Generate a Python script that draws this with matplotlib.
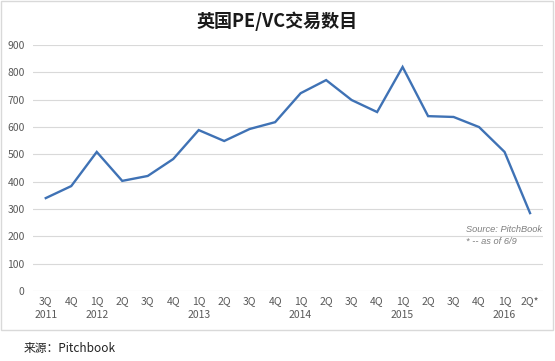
import matplotlib.pyplot as plt
from matplotlib.patches import Rectangle

plt.rcParams['font.family'] = ['Noto Sans CJK SC', 'DejaVu Sans']

# 季度标签与交易数目
quarters = ['3Q\n2011', '4Q', '1Q\n2012', '2Q', '3Q', '4Q', '1Q\n2013', '2Q', '3Q', '4Q',
            '1Q\n2014', '2Q', '3Q', '4Q', '1Q\n2015', '2Q', '3Q', '4Q', '1Q\n2016', '2Q*']
deals = [340, 384, 509, 403, 421, 483, 589, 549, 593, 618,
         724, 772, 699, 655, 820, 640, 637, 600, 509, 285]
yticks = [0, 100, 200, 300, 400, 500, 600, 700, 800, 900]

fig = plt.figure(figsize=(5.55, 3.61), dpi=100)
ax = fig.add_axes([0.0595, 0.194, 0.9185, 0.681])

x = range(len(deals))
ax.plot(x, deals, color='#3F72B5', linewidth=1.7, solid_joinstyle='miter')

ax.set_xlim(-0.5, len(deals) - 0.5)
ax.set_ylim(0, 900)
ax.set_yticks(yticks)
ax.set_xticks(list(x))
ax.set_xticklabels(quarters, fontsize=7.5, color='#595959', linespacing=1.45)
ax.tick_params(axis='y', labelsize=7.5, labelcolor='#595959', length=0, pad=6)
ax.tick_params(axis='x', length=0, pad=4)
ax.grid(axis='y', color='#D9D9D9', linewidth=0.8)
ax.set_axisbelow(True)
for s in ax.spines.values():
    s.set_visible(False)

fig.text(0.5, 0.94, '英国PE/VC交易数目', ha='center', va='center',
         fontsize=13, fontweight='bold', color='#1a1a1a')
ax.text(0.849, 0.225, 'Source: PitchBook\n* -- as of 6/9', transform=ax.transAxes,
        ha='left', va='center', fontsize=6.7, style='italic', color='#7f7f7f',
        family=['Liberation Sans'], linespacing=1.4)
fig.text(0.043, 0.035, '来源：Pitchbook', ha='left', va='center', fontsize=8.5, color='#222222')

fig.patches.append(Rectangle((0.002, 0.086), 0.994, 0.912, transform=fig.transFigure,
                             fill=False, edgecolor='#D9D9D9', linewidth=1))

fig.savefig('out.png', dpi=100)
